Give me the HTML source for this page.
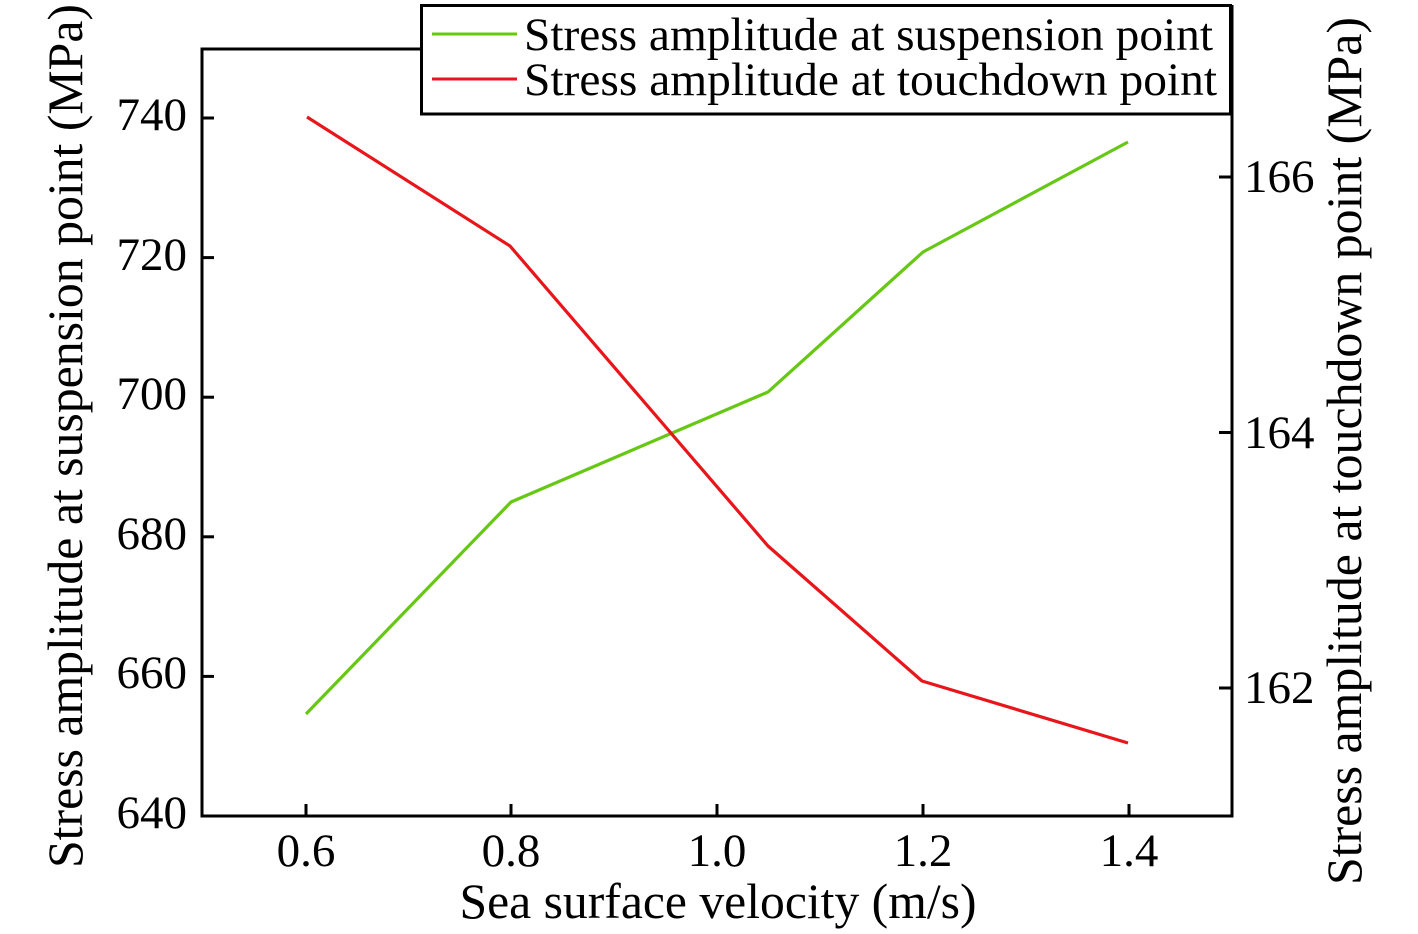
<!DOCTYPE html>
<html>
<head>
<meta charset="utf-8">
<style>
  html, body { margin:0; padding:0; background:#fff; }
  svg { display:block; }
  text { font-family: "Liberation Serif", "Times New Roman", serif; fill:#000; }
</style>
</head>
<body>
<svg width="1418" height="934" viewBox="0 0 1418 934" xmlns="http://www.w3.org/2000/svg">
  <rect x="0" y="0" width="1418" height="934" fill="#fff"/>

  <!-- series -->
  <polyline fill="none" stroke="#66c814" stroke-width="3.2" stroke-linejoin="round"
    points="306,714 511,502 768,392 923,252 1128,142"/>
  <polyline fill="none" stroke="#e8161b" stroke-width="3.2" stroke-linejoin="round"
    points="307,117 510,246 768,546 922,681 1128,743"/>

  <!-- axes box -->
  <g stroke="#000" stroke-width="3" fill="none">
    <line x1="202" y1="49" x2="202" y2="817.5"/>
    <line x1="200.5" y1="816" x2="1233.5" y2="816"/>
    <line x1="1232" y1="817.5" x2="1232" y2="5"/>
    <line x1="200.5" y1="49" x2="422" y2="49"/>
    <!-- bottom ticks -->
    <line x1="306" y1="816" x2="306" y2="804"/>
    <line x1="511" y1="816" x2="511" y2="804"/>
    <line x1="717" y1="816" x2="717" y2="804"/>
    <line x1="923" y1="816" x2="923" y2="804"/>
    <line x1="1129" y1="816" x2="1129" y2="804"/>
    <!-- left ticks -->
    <line x1="202" y1="118" x2="214" y2="118"/>
    <line x1="202" y1="257.6" x2="214" y2="257.6"/>
    <line x1="202" y1="397.2" x2="214" y2="397.2"/>
    <line x1="202" y1="536.8" x2="214" y2="536.8"/>
    <line x1="202" y1="676.4" x2="214" y2="676.4"/>
    <!-- right ticks -->
    <line x1="1232" y1="177" x2="1219" y2="177"/>
    <line x1="1232" y1="432.5" x2="1219" y2="432.5"/>
    <line x1="1232" y1="688" x2="1219" y2="688"/>
  </g>

  <!-- x tick labels -->
  <g font-size="47" text-anchor="middle">
    <text x="306" y="866">0.6</text>
    <text x="511" y="866">0.8</text>
    <text x="717" y="866">1.0</text>
    <text x="923" y="866">1.2</text>
    <text x="1129" y="866">1.4</text>
  </g>

  <!-- left tick labels -->
  <g font-size="47" text-anchor="end">
    <text x="187" y="130">740</text>
    <text x="187" y="270">720</text>
    <text x="187" y="409">700</text>
    <text x="187" y="549">680</text>
    <text x="187" y="688">660</text>
    <text x="187" y="828">640</text>
  </g>

  <!-- right tick labels -->
  <g font-size="47" text-anchor="start">
    <text x="1244" y="192">166</text>
    <text x="1244" y="448">164</text>
    <text x="1244" y="703">162</text>
  </g>

  <!-- axis titles -->
  <text x="718" y="918" font-size="49.5" text-anchor="middle" textLength="517" lengthAdjust="spacingAndGlyphs">Sea surface velocity (m/s)</text>
  <text transform="translate(82,868) rotate(-90)" font-size="49.5" textLength="864" lengthAdjust="spacingAndGlyphs">Stress amplitude at suspension point (MPa)</text>
  <text transform="translate(1361,885) rotate(-90)" font-size="49.5" textLength="868" lengthAdjust="spacingAndGlyphs">Stress amplitude at touchdown point (MPa)</text>

  <!-- legend -->
  <rect x="421.5" y="5.5" width="809" height="108.5" fill="#fff" stroke="#000" stroke-width="3"/>
  <line x1="432" y1="34" x2="517" y2="34" stroke="#66c814" stroke-width="3"/>
  <line x1="432" y1="79" x2="517" y2="79" stroke="#e8161b" stroke-width="3"/>
  <text x="524" y="50" font-size="47" textLength="689" lengthAdjust="spacingAndGlyphs">Stress amplitude at suspension point</text>
  <text x="524" y="95" font-size="47" textLength="693" lengthAdjust="spacingAndGlyphs">Stress amplitude at touchdown point</text>
</svg>
</body>
</html>
